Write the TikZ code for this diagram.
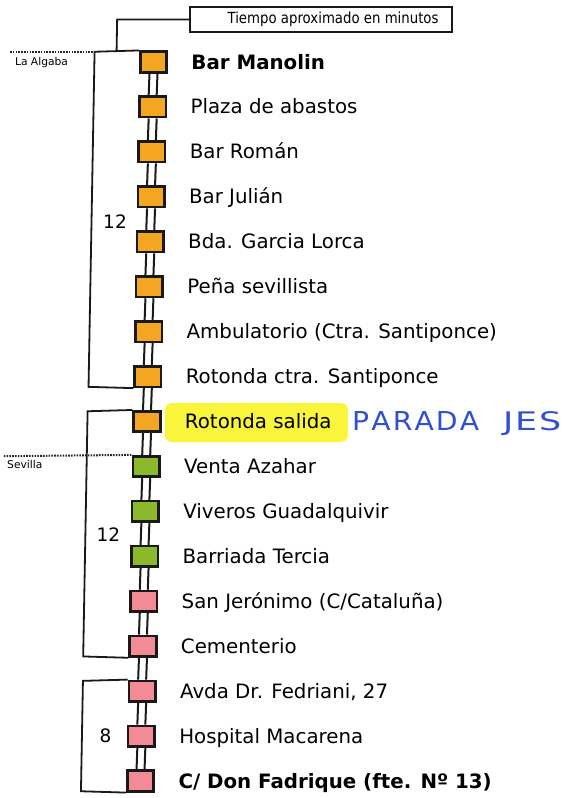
\documentclass[tikz,border=0pt]{standalone}
\usepackage{fontspec}
\setmainfont{DejaVu Sans}
\usepackage{graphicx}
\usetikzlibrary{calc}
\definecolor{stopor}{HTML}{F4A623}
\definecolor{stopgr}{HTML}{8CB82C}
\definecolor{stoppk}{HTML}{F28B96}
\definecolor{hilite}{HTML}{F9F53A}
\definecolor{penblue}{HTML}{3050D0}
\begin{document}
\begin{tikzpicture}[x=1pt,y=-1pt,
  stopbox/.style={draw=black!90, line width=2.6pt, minimum width=26.5pt, minimum height=20.5pt, inner sep=0pt},
  stoplbl/.style={anchor=base west, inner sep=0pt, font=\fontsize{19.8}{24}\selectfont},
  rail/.style={line width=2pt, black!90},
  brk/.style={line width=1.8pt, black!90},
  dotline/.style={line width=2pt, black!85, dash pattern=on 1.6pt off 1.2pt},
  numlbl/.style={inner sep=0pt, font=\fontsize{18.5}{22}\selectfont},
  zonelbl/.style={anchor=west, inner sep=0pt, font=\fontsize{10.7}{13}\selectfont}]
\useasboundingbox (0,0) rectangle (564,798);
\begin{scope}[xslant=0.018]
  % header
  \node[draw=black!90, line width=2pt, minimum width=262pt, minimum height=25pt, inner sep=0pt,
        font=\fontsize{13.3}{16}\selectfont] (h) at (321.4,19.5) {\hspace*{24pt}\scalebox{1}[1.15]{Tiempo aproximado en minutos}};
  % highlight
  \node[fill=hilite, rounded corners=7pt, minimum width=183pt, minimum height=39pt, inner sep=0pt] (hl) at (264.1,422.5) {};
  % stops
  \foreach \i/\c/\t in {
    0/stopor/{\bfseries Bar Manolin},
    1/stopor/{Plaza de abastos},
    2/stopor/{Bar Román},
    3/stopor/{Bar Julián},
    4/stopor/{Bda. Garcia Lorca},
    5/stopor/{Peña sevillista},
    6/stopor/{Ambulatorio (Ctra. Santiponce)},
    7/stopor/{Rotonda ctra. Santiponce},
    8/stopor/{Rotonda salida},
    9/stopgr/{Venta Azahar},
    10/stopgr/{Viveros Guadalquivir},
    11/stopgr/{Barriada Tercia},
    12/stoppk/{San Jerónimo (C/Cataluña)},
    13/stoppk/{Cementerio},
    14/stoppk/{Avda Dr. Fedriani, 27},
    15/stoppk/{Hospital Macarena},
    16/stoppk/{\bfseries C/ Don Fadrique (fte. Nº 13)}} {
    \pgfmathsetmacro\yy{62+44.94*\i}
    \node[stopbox, fill=\c] (s\i) at (154.6,\yy) {};
    \node[stoplbl] (t\i) at (192.5,{\yy+7}) {\t};
  }
  % rails between stops
  \foreach \i [evaluate=\i as \j using int(\i+1)] in {0,...,15} {
    \draw[rail] ($(s\i.south)+(-4,0)$) -- ($(s\j.north)+(-4,0)$);
    \draw[rail] ($(s\i.south)+(4,0)$) -- ($(s\j.north)+(4,0)$);
  }
  % brackets
  \coordinate (b1t) at (95.5,51.75);
  \coordinate (b1b) at (95.5,386.85);
  \coordinate (b2t) at (95,411.25);
  \coordinate (b2b) at (95,656.45);
  \coordinate (b3t) at (95.2,680.85);
  \coordinate (b3b) at (95.2,791.25);
  \draw[brk] (s0.north west) -- (b1t) -- (b1b) -- (s7.south west);
  \draw[brk] (s8.north west) -- (b2t) -- (b2b) -- (s13.south west);
  \draw[brk] (s14.north west) -- (b3t) -- (b3b) -- (s16.south west);
  % header connector
  \coordinate (hc) at (117.5,51.75);
  \draw[brk] (h.west) -| (hc);
  % zone lines
  \coordinate (la) at (11,51.75);
  \coordinate (sv) at (12,456.2);
  \draw[dotline] (la) -- (b1t);
  \draw[dotline] (sv) -- (s9.north west);
  \node[zonelbl] (lzA) at (16,63) {La Algaba};
  \node[zonelbl] (lzS) at (15.4,465) {Sevilla};
  % times
  \node[numlbl] (n1) at (119,221.5) {12};
  \node[numlbl] (n2) at (118,535) {12};
  \node[numlbl] (n3) at (118.7,736) {8};
  % handwritten note
  \node[anchor=base west, inner sep=0pt, text=penblue, font=\fontsize{20}{24}\selectfont] (note) at (359.7,430)
    {\resizebox{127pt}{19pt}{P\kern1.5pt A\kern1.5pt R\kern1.5pt A\kern1.5pt D\kern1.5pt A}\hspace{24pt}\resizebox{58pt}{19pt}{J\kern1pt E\kern1pt S}};
\end{scope}
\end{tikzpicture}
\end{document}
